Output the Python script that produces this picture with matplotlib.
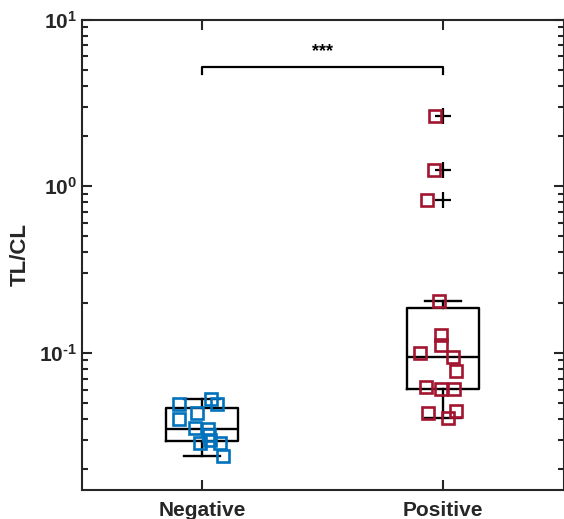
import numpy as np
import matplotlib.pyplot as plt
from matplotlib import ticker

plt.rcParams['font.family'] = ['Liberation Sans', 'DejaVu Sans']
plt.rcParams['font.weight'] = 'bold'
plt.rcParams['mathtext.fontset'] = 'custom'
plt.rcParams['mathtext.bf'] = 'Liberation Sans:bold'
plt.rcParams['mathtext.rm'] = 'Liberation Sans:bold'

groups = ['Negative', 'Positive']
negative = [0.0491, 0.0531, 0.0491, 0.0435, 0.0399, 0.0351, 0.0347, 0.0320,
            0.0289, 0.0301, 0.0289, 0.0240]
positive = [2.633, 1.248, 0.824, 0.2039, 0.1274, 0.1109, 0.1003, 0.0946,
            0.0777, 0.0623, 0.0602, 0.0602, 0.0437, 0.0445, 0.0407]
# horizontal scatter offsets
neg_jitter = [-0.099, 0.036, 0.059, -0.022, -0.099, -0.030, 0.025, 0.029,
              -0.008, 0.033, 0.073, 0.086]
pos_jitter = [-0.032, -0.038, -0.066, -0.018, -0.008, -0.007, -0.096, 0.042,
              0.052, -0.073, -0.007, 0.047, -0.063, 0.055, 0.019]
significance = '***'

colors = ['#0072BD', '#A2142F']


def box_stats(vals, label):
    v = np.sort(np.asarray(vals))
    q1, med, q3 = np.percentile(v, [25, 50, 75], method='hazen')
    iqr = q3 - q1
    lo = v[v >= q1 - 1.5 * iqr].min()
    hi = v[v <= q3 + 1.5 * iqr].max()
    fliers = v[(v < lo) | (v > hi)]
    return dict(label=label, q1=q1, med=med, q3=q3, whislo=lo, whishi=hi, fliers=fliers)


def exp_label(v, pos):
    e = int(round(np.log10(v)))
    s = str(e).replace('-', '\u2010')
    return r'$\mathbf{10^{%s}}$' % s


fig = plt.figure(figsize=(5.64, 5.19), dpi=100)
ax = fig.add_axes([82 / 564, 1 - 490 / 519, (563.5 - 82) / 564, (490 - 19.5) / 519])

stats = [box_stats(negative, groups[0]), box_stats(positive, groups[1])]
line = dict(color='k', linewidth=1.7)
ax.bxp(stats, positions=[1, 2], widths=0.3, capwidths=0.15,
       boxprops=line, whiskerprops=line, capprops=line, medianprops=line,
       flierprops=dict(marker='+', markeredgecolor='k', markersize=11,
                       markeredgewidth=1.6, linestyle='none'))

for i, (vals, jit) in enumerate([(negative, neg_jitter), (positive, pos_jitter)]):
    ax.plot(np.array(jit) + i + 1, vals, linestyle='none', marker='s',
            markersize=8.5, markerfacecolor='none', markeredgecolor=colors[i],
            markeredgewidth=1.9, zorder=3)

# significance bracket
sig_top, sig_tick = 5.2, 4.72
ax.plot([1, 1, 2, 2], [sig_tick, sig_top, sig_top, sig_tick], color='k', linewidth=1.6)
ax.text(1.5, sig_top * 1.1, significance, ha='center', va='bottom', fontsize=13, fontweight='bold')

ax.set_yscale('log')
ax.set_ylim(0.015, 10)
ax.set_xlim(0.5, 2.5)
ax.set_xticks([1, 2])
ax.set_xticklabels(groups, fontsize=15, fontweight='bold', color='#262626')
ax.yaxis.set_major_locator(ticker.FixedLocator([0.1, 1, 10]))
ax.yaxis.set_major_formatter(ticker.FuncFormatter(exp_label))
ax.yaxis.set_minor_locator(ticker.LogLocator(base=10, subs=np.arange(2, 10)))
ax.yaxis.set_minor_formatter(ticker.NullFormatter())
ax.tick_params(axis='y', labelsize=15, labelcolor='#262626')
ax.tick_params(which='both', direction='in', top=True, right=True, width=1.5, color='#262626')
ax.tick_params(which='major', length=7)
ax.tick_params(which='minor', length=4)
ax.tick_params(axis='x', pad=8)
ax.set_ylabel('TL/CL', fontsize=16, fontweight='bold', color='#262626', labelpad=6)
for s in ax.spines.values():
    s.set_linewidth(1.5)
    s.set_color('#262626')

fig.savefig('out.png', dpi=100)
